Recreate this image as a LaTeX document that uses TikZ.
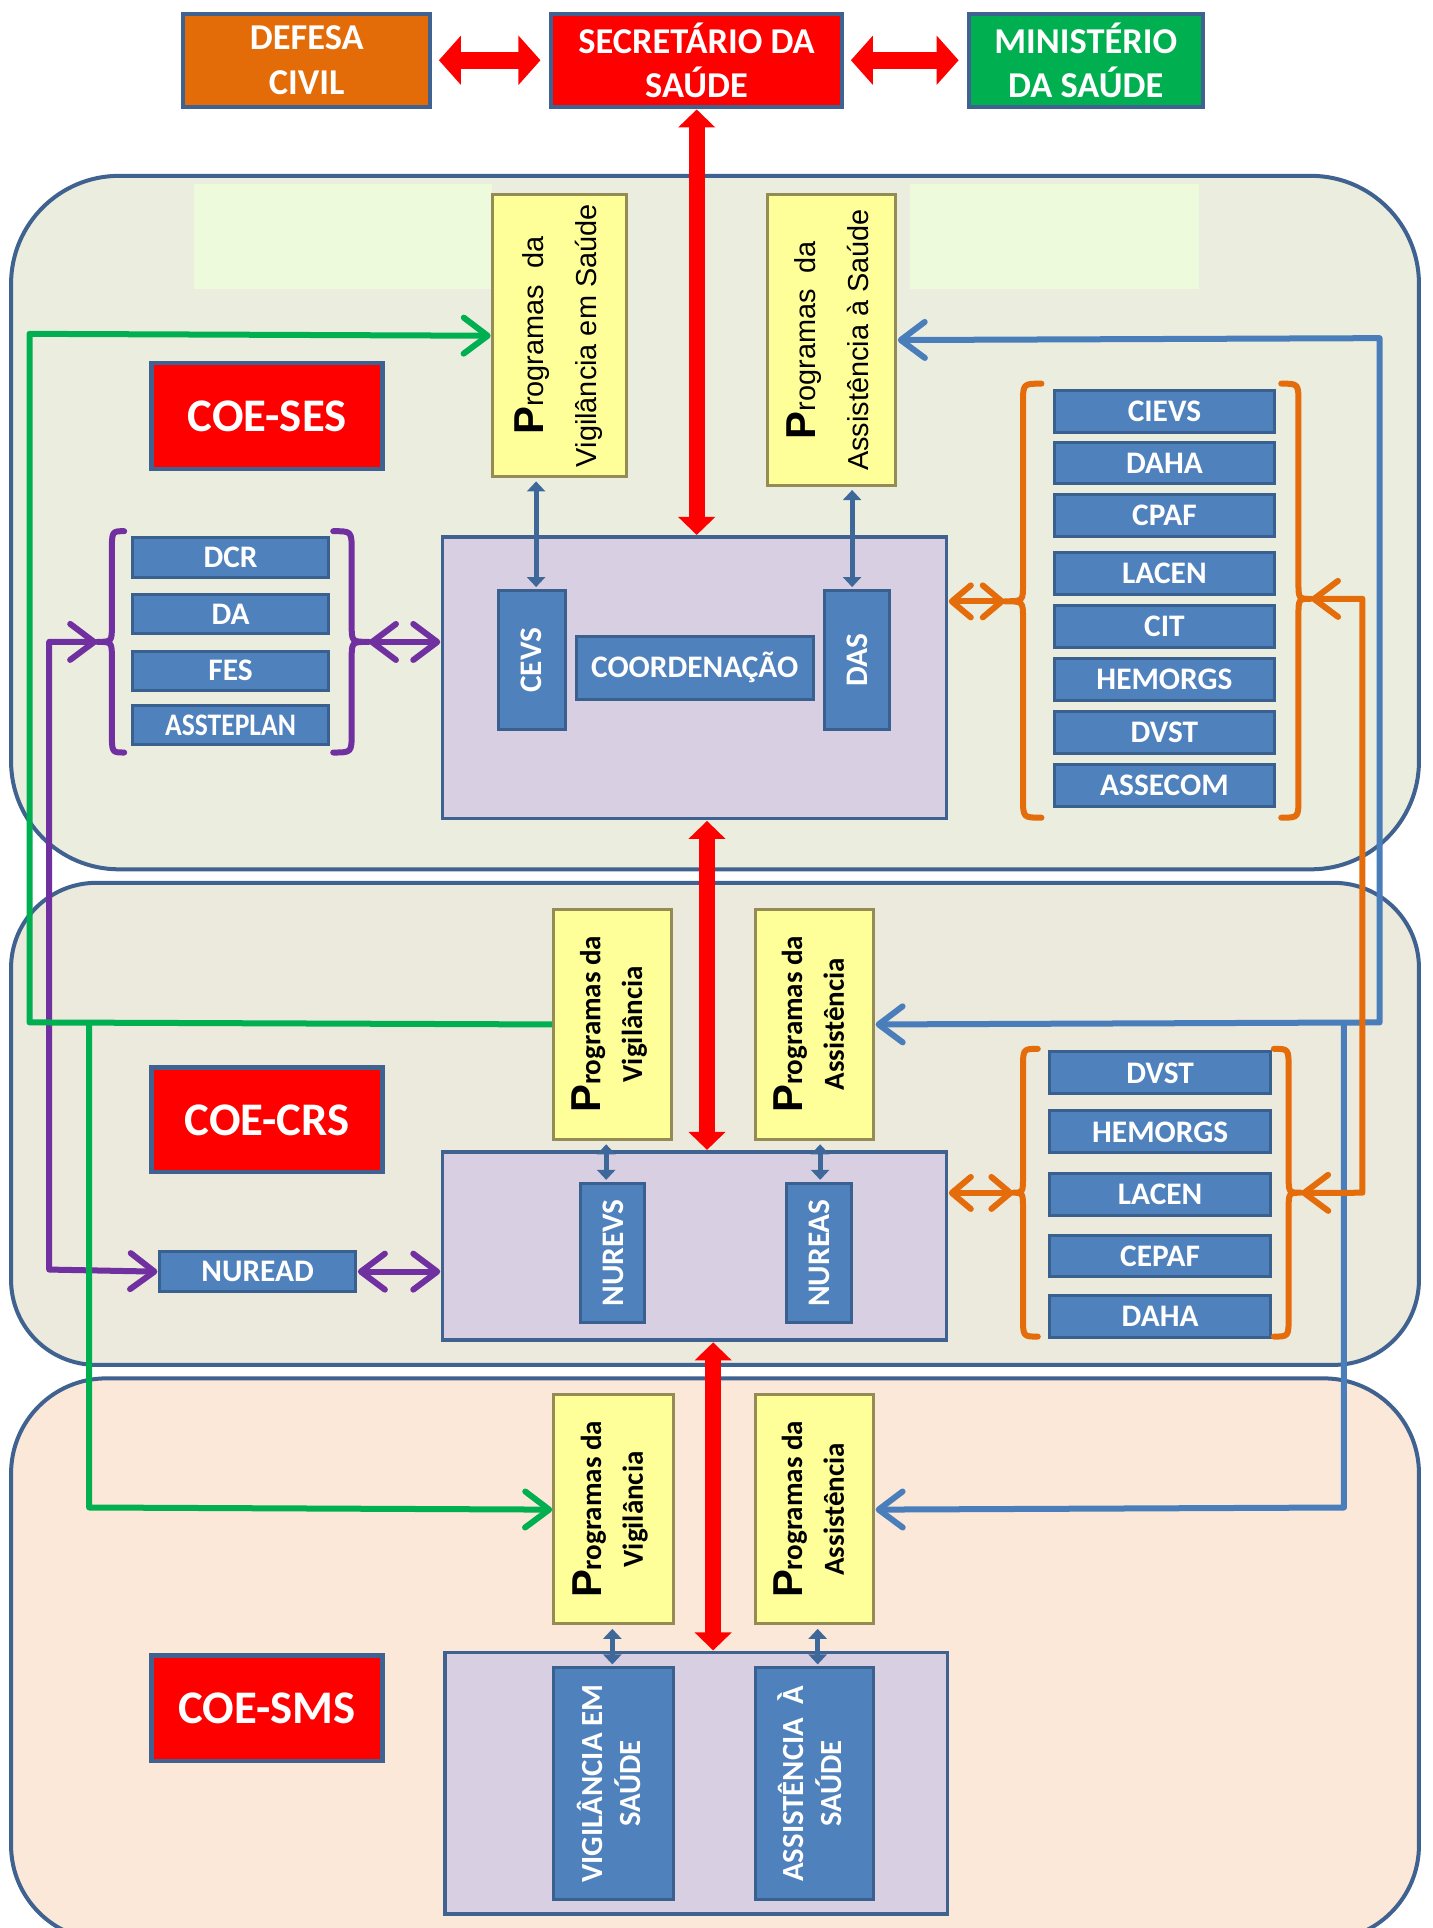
\documentclass[tikz,border=0pt]{standalone}
\usepackage{fontspec}
\setmainfont{Carlito}
\newfontfamily\arialf{Liberation Sans}
\usepackage{graphicx}
\usetikzlibrary{arrows.meta}
\definecolor{pborder}{HTML}{3F6290}
\definecolor{sesfill}{HTML}{EBEEDF}
\definecolor{patchc}{HTML}{EEFADC}
\definecolor{crsfill}{HTML}{ECE9DD}
\definecolor{smsfill}{HTML}{FCE8D8}
\definecolor{pfill}{HTML}{D8CFE3}
\definecolor{yfill}{HTML}{FFFF99}
\definecolor{yedge}{HTML}{958B55}
\definecolor{boxblue}{HTML}{4F81BD}
\definecolor{boxedge}{HTML}{3A6090}
\definecolor{lblue}{HTML}{4A7EBB}
\definecolor{sblue}{HTML}{3E679A}
\definecolor{gcol}{HTML}{00B050}
\definecolor{ocol}{HTML}{E46C0A}
\definecolor{pcol}{HTML}{7030A0}
\definecolor{defcol}{HTML}{E36C09}
\definecolor{mincol}{HTML}{00B050}
\newcommand\rtx[1]{\rotatebox{90}{#1}}
\newcommand\bigPP{{\arialf\bfseries\fontsize{34}{34}\selectfont P}}
\newcommand\mybrace[7]{%
  \draw[#1, line width=6pt, line cap=round, line join=round]
    (#2,#5) .. controls (#3,#5) .. (#3,#5+16) -- (#3,#7-14)
    .. controls (#3,#7) .. (#4,#7) .. controls (#3,#7) .. (#3,#7+14)
    -- (#3,#6-16) .. controls (#3,#6) .. (#2,#6);}
\begin{document}
\begin{tikzpicture}[x=1pt,y=-1pt,scale=1.2292,transform shape,
  box/.style={draw, inner sep=0pt, anchor=north west, align=center},
  wh/.style 2 args={minimum width=#1pt, minimum height=#2pt},
  topbox/.style={box, draw=pborder, line width=4pt, text=white, font=\bfseries\fontsize{29.6}{36}\selectfont},
  coe/.style={box, fill=red, draw=pborder, line width=4.5pt, text=white, font=\bfseries\fontsize{38}{44}\selectfont},
  bbox/.style={box, fill=boxblue, draw=boxedge, line width=3pt, text=white, font=\bfseries\fontsize{25.5}{30}\selectfont},
  sbox/.style={bbox, font=\bfseries\fontsize{25}{31}\selectfont},
  yses/.style={box, fill=yfill, draw=yedge, line width=3pt, text=black, font=\arialf\fontsize{23.5}{43}\selectfont},
  ycrs/.style={box, fill=yfill, draw=yedge, line width=3pt, text=black, font=\bfseries\fontsize{23.6}{34}\selectfont},
  pbox/.style={box, fill=pfill, draw=pborder, line width=3.5pt},
  panel/.style={draw=pborder, line width=4pt},
  redv/.style={draw=red, line width=16pt, {Triangle[width=36pt,length=18pt]}-{Triangle[width=36pt,length=18pt]}},
  redh/.style={draw=red, line width=17pt, {Triangle[width=48pt,length=22pt]}-{Triangle[width=48pt,length=22pt]}, shorten <=6pt, shorten >=8pt},
  smallb/.style={draw=sblue, line width=5pt, {Triangle[width=18pt,length=10pt]}-{Triangle[width=18pt,length=10pt]}, shorten <=3pt, shorten >=2pt},
  conn/.style={line width=6pt, line join=round},
  barbtwo/.style={{Straight Barb[length=24pt,width=36pt,round]}-{Straight Barb[length=24pt,width=36pt,round]}},
  barbshort/.style={{Straight Barb[length=19pt,width=32pt,round]}-{Straight Barb[length=19pt,width=32pt,round]}},
  barbone/.style={-{Straight Barb[length=24pt,width=36pt,round]}}
]
\useasboundingbox (0,0) rectangle (1165,1568);
\fill[white] (0,0) rectangle (1165,1568);

% panels
\draw[panel, fill=sesfill, rounded corners=108pt] (9,143) rectangle (1154,707);
\fill[patchc] (158,150) rectangle (400,235);
\fill[patchc] (740,150) rectangle (975,235);
\draw[panel, fill=crsfill, rounded corners=85pt] (9,718) rectangle (1154,1110);
\draw[panel, fill=smsfill, rounded corners=95pt] (9,1121) rectangle (1154,1578);

% top
\node[topbox, fill=defcol, wh={201}{76}] (defesa) at (147,9) {DEFESA\\CIVIL};
\node[topbox, fill=red, wh={237}{76}] (secr) at (446,9) {SECRETÁRIO DA\\SAÚDE};
\node[topbox, fill=mincol, wh={190}{76}] (minis) at (786,9) {MINISTÉRIO\\DA SAÚDE};

% COE labels
\node[coe, wh={188}{86}] (coeses) at (121,293) {COE-SES};
\node[coe, wh={188}{85}] (coecrs) at (121,866) {COE-CRS};
\node[coe, wh={188}{86}] (coesms) at (121,1344) {COE-SMS};

% SES
\node[yses, wh={109}{229}] (sesvig) at (399,157) {\rtx{\begin{tabular}{@{}c@{}}\bigPP rogramas\ \ da\\Vigilância em Saúde\end{tabular}}};
\node[yses, wh={104}{236}] (sesass) at (623,157) {\rtx{\begin{tabular}{@{}c@{}}\bigPP rogramas\ \ da\\Assistência à Saúde\end{tabular}}};
\node[pbox, wh={410}{229}] (sespur) at (358,435) {};
\node[bbox, wh={54}{113}] (cevs) at (404,479) {\rtx{CEVS}};
\node[bbox, wh={193}{51}] (coord) at (467,516) {COORDENAÇÃO};
\node[bbox, wh={53}{113}] (das) at (669,479) {\rtx{DAS}};

\node[bbox, wh={160}{32}] (dcr) at (106,436) {DCR};
\node[bbox, wh={160}{32}] (da) at (106,482) {DA};
\node[bbox, wh={160}{32}] (fes) at (106,528) {FES};
\node[bbox, wh={160}{32}] (asst) at (106,572) {\scalebox{0.88}[1]{ASSTEPLAN}};

\node[bbox, wh={179}{34}] (cievs) at (856,316) {CIEVS};
\node[bbox, wh={179}{34}] (daha1) at (856,358) {DAHA};
\node[bbox, wh={179}{34}] (cpaf) at (856,401) {CPAF};
\node[bbox, wh={179}{34}] (lacen1) at (856,448) {LACEN};
\node[bbox, wh={179}{34}] (cit) at (856,491) {CIT};
\node[bbox, wh={179}{34}] (hem1) at (856,534) {HEMORGS};
\node[bbox, wh={179}{34}] (dvst1) at (856,577) {DVST};
\node[bbox, wh={179}{34}] (assecom) at (856,620) {ASSECOM};

% CRS
\node[ycrs, wh={96}{187}] (crsvig) at (449,738) {\rtx{\begin{tabular}{@{}c@{}}\bigPP rogramas da\\Vigilância\end{tabular}}};
\node[ycrs, wh={96}{187}] (crsass) at (613,738) {\rtx{\begin{tabular}{@{}c@{}}\bigPP rogramas da\\Assistência\end{tabular}}};
\node[pbox, wh={410}{153}] (crspur) at (358,935) {};
\node[bbox, wh={52}{113}] (nurevs) at (471,961) {\rtx{NUREVS}};
\node[bbox, wh={53}{113}] (nureas) at (638,961) {\rtx{NUREAS}};
\node[bbox, wh={160}{33}] (nuread) at (128,1016) {NUREAD};

\node[bbox, wh={180}{34}] (dvst2) at (852,854) {DVST};
\node[bbox, wh={180}{34}] (hem2) at (852,902) {HEMORGS};
\node[bbox, wh={180}{34}] (lacen2) at (852,953) {LACEN};
\node[bbox, wh={180}{34}] (cepaf) at (852,1003) {CEPAF};
\node[bbox, wh={180}{34}] (daha2) at (852,1052) {DAHA};

% SMS
\node[ycrs, wh={97}{186}] (smsvig) at (449,1133) {\rtx{\begin{tabular}{@{}c@{}}\bigPP rogramas da\\Vigilância\end{tabular}}};
\node[ycrs, wh={96}{186}] (smsass) at (613,1133) {\rtx{\begin{tabular}{@{}c@{}}\bigPP rogramas da\\Assistência\end{tabular}}};
\node[pbox, wh={409}{213}] (smspur) at (360,1342) {};
\node[sbox, wh={97}{188}] (smsv) at (449,1355) {\rtx{\begin{tabular}{@{}c@{}}VIGILÂNCIA EM\\SAÚDE\end{tabular}}};
\node[sbox, wh={96}{188}] (smsa) at (613,1355) {\rtx{\begin{tabular}{@{}c@{}}ASSISTÊNCIA\ \ À\\SAÚDE\end{tabular}}};

% brace tips
\coordinate (plt) at (79,522);
\coordinate (prt) at (300,522);
\coordinate (olt) at (817,489);
\coordinate (ort) at (1066,487);
\coordinate (oclt) at (824,970);
\coordinate (ocrt) at (1058,970);

% braces
\mybrace{pcol}{101}{91}{79}{432}{612}{522}
\mybrace{pcol}{271}{286}{300}{432}{612}{522}
\mybrace{ocol}{847}{832}{817}{312}{665}{489}
\mybrace{ocol}{1042}{1056}{1066}{312}{665}{487}
\mybrace{ocol}{844}{832}{824}{853}{1087}{970}
\mybrace{ocol}{1036}{1048}{1058}{853}{1087}{970}

% red arrows
\draw[redh] (defesa.east) -- (secr.west);
\draw[redh] (secr.east) -- (minis.west);
\draw[redv] (secr.south) -- (secr.south |- sespur.north);
\draw[redv] (sespur.south -| 575,0) -- (crspur.north -| 575,0);
\draw[redv] (crspur.south -| 580,0) -- (smspur.north -| 580,0);

% small blue arrows
\draw[smallb] (sesvig.south -| 436,0) -- (cevs.north -| 436,0);
\draw[smallb] (sesass.south -| 693,0) -- (das.north -| 693,0);
\draw[smallb] (crsvig.south -| 493,0) -- (nurevs.north -| 493,0);
\draw[smallb] (crsass.south -| 667,0) -- (nureas.north -| 667,0);
\draw[smallb] (smsvig.south -| 498,0) -- (smsv.north -| 498,0);
\draw[smallb] (smsass.south -| 665,0) -- (smsa.north -| 665,0);

% purple
\draw[conn, draw=pcol, barbtwo] (plt) -- (40,522) -- (40,1032.5) -- (nuread.west);
\draw[conn, draw=pcol, barbtwo] (prt) -- (sespur.west |- prt);
\draw[conn, draw=pcol, barbtwo] (nuread.east) -- (crspur.west |- nuread.east);

% green
\draw[conn, draw=gcol, barbone] (crsvig.west) -- (24,831.5) -- (24,271.5) -- (sesvig.west);
\draw[conn, draw=gcol, barbone] (72.5,831.5) -- (72.5,1226) -- (smsvig.west);

% blue
\draw[conn, draw=lblue, barbtwo] (sesass.east) -- (1122,275) -- (1122,831.5) -- (crsass.east);
\draw[conn, draw=lblue, barbone] (1093,831.5) -- (1093,1226) -- (smsass.east);

% orange
\draw[conn, draw=ocol, barbshort] (sespur.east |- olt) -- (olt);
\draw[conn, draw=ocol, barbtwo] (ort) -- (1108,487) -- (1108,970) -- (ocrt);
\draw[conn, draw=ocol, barbshort] (crspur.east |- oclt) -- (oclt);
\end{tikzpicture}
\end{document}
